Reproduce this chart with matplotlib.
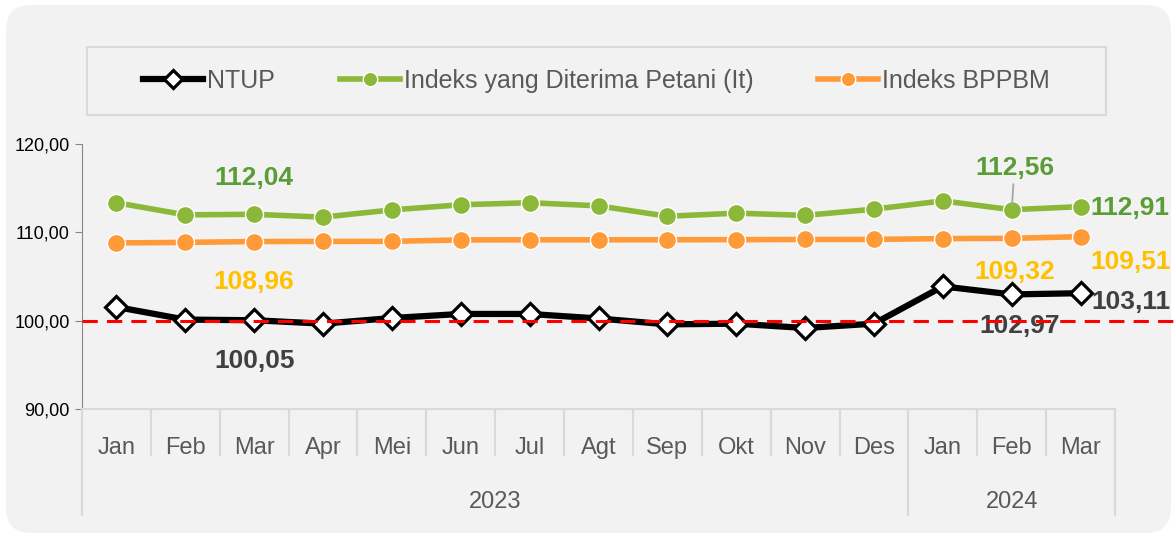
import matplotlib.pyplot as plt
from matplotlib.patches import FancyBboxPatch, Rectangle
from matplotlib.transforms import blended_transform_factory
import numpy as np

plt.rcParams['font.family'] = ['Liberation Sans', 'DejaVu Sans']

# Data
months = ['Jan', 'Feb', 'Mar', 'Apr', 'Mei', 'Jun', 'Jul', 'Agt', 'Sep', 'Okt', 'Nov', 'Des', 'Jan', 'Feb', 'Mar']
years = ['2023', '2024']
year_spans = [(0, 11), (12, 14)]
ntup = [101.55, 100.12, 100.05, 99.66, 100.30, 100.76, 100.76, 100.25, 99.58, 99.66, 99.17, 99.66, 103.88, 102.97, 103.11]
it = [113.35, 111.98, 112.04, 111.72, 112.54, 113.12, 113.35, 113.00, 111.82, 112.17, 111.92, 112.62, 113.56, 112.56, 112.91]
bppbm = [108.80, 108.86, 108.96, 108.97, 108.98, 109.14, 109.15, 109.15, 109.16, 109.17, 109.19, 109.20, 109.29, 109.32, 109.51]
yticks = [90, 100, 110, 120]

GREEN = '#8BB838'
GREEN_TXT = '#5A9C35'
ORANGE = '#FF9A38'
GOLD = '#FFC000'
DARK = '#404040'
GRID = '#D9D9D9'

fig = plt.figure(figsize=(11.74, 5.40), dpi=100)
fig.patch.set_facecolor('white')

# rounded background panel
bg = FancyBboxPatch((0.06, 0.07), 11.65, 5.28, boxstyle='round,pad=0,rounding_size=0.25',
                    transform=fig.dpi_scale_trans, facecolor='#F2F2F2', edgecolor='none', zorder=-2)
fig.patches.append(bg)

# legend box
fig.patches.append(Rectangle((0.87, 4.25), 10.19, 0.68, transform=fig.dpi_scale_trans,
                             facecolor='#F2F2F2', edgecolor=GRID, lw=1.5, zorder=-1))

ax = fig.add_axes([82 / 1174, (540 - 409) / 540, 1033 / 1174, 265 / 540])
ax.set_facecolor('none')
ax.set_zorder(1)
x = np.arange(len(months))

ax.plot(x, bppbm, color=ORANGE, lw=4, marker='o', ms=13, mfc=ORANGE, mec='white', mew=1,
        label='Indeks BPPBM', zorder=3)
ax.plot(x, it, color=GREEN, lw=4, marker='o', ms=13, mfc=GREEN, mec='white', mew=1,
        label='Indeks yang Diterima Petani (It)', zorder=3)
ax.plot(x, ntup, color='black', lw=4.5, marker='D', ms=11, mfc='white', mec='black', mew=2.3,
        label='NTUP', zorder=4)
ax.axhline(100, xmin=0, xmax=(1174 - 82) / 1033, color='#FF0000', lw=2.2, ls=(0, (5, 3)),
           clip_on=False, zorder=5)

ax.set_xlim(-0.5, len(months) - 0.5)
ax.set_ylim(90, 120)
ax.set_yticks(yticks)
ax.set_yticklabels([f'{v:.2f}'.replace('.', ',') for v in yticks], fontsize=13, color='black')
ax.tick_params(axis='y', length=5, color='#868686', pad=4)
for s in ['top', 'right']:
    ax.spines[s].set_visible(False)
ax.spines['left'].set_color('#868686')
ax.spines['bottom'].set_color(GRID)
ax.spines['bottom'].set_linewidth(1.5)

ax.set_xticks(x)
ax.set_xticklabels(months, fontsize=17, color='#595959')
ax.tick_params(axis='x', length=0, pad=20)

# category separators and year labels
tr = blended_transform_factory(ax.transData, ax.transAxes)
for b in np.arange(-0.5, len(months), 1.0):
    outer = b in (-0.5, 11.5, len(months) - 0.5)
    ax.plot([b, b], [0, -0.40 if outer else -0.174], transform=tr, color=GRID, lw=1.5, clip_on=False)
for yr, (a, b) in zip(years, year_spans):
    ax.text((a + b) / 2, -0.35, yr, transform=tr, ha='center', va='center', fontsize=17, color='#595959')

# data labels
lab = dict(fontsize=19, fontweight='bold', textcoords='offset points', va='center')
ax.annotate('112,04', (2, it[2]), xytext=(0, 26), ha='center', color=GREEN_TXT, **lab)
ax.annotate('108,96', (2, bppbm[2]), xytext=(0, -29), ha='center', color=GOLD, **lab)
ax.annotate('100,05', (2, ntup[2]), xytext=(0, -29), ha='center', color=DARK, **lab)
ax.annotate('112,56', (13, it[13]), xytext=(2, 30), ha='center', color=GREEN_TXT,
            arrowprops=dict(arrowstyle='-', color='#A6A6A6', lw=1.3, shrinkA=1, shrinkB=3), **lab)
ax.annotate('109,32', (13, bppbm[13]), xytext=(2, -24), ha='center', color=GOLD, **lab)
ax.annotate('102,97', (13, ntup[13]), xytext=(6, -23), ha='center', color=DARK, **lab)
ax.annotate('112,91', (14, it[14]), xytext=(7, -1), ha='left', color=GREEN_TXT, **lab)
ax.annotate('109,51', (14, bppbm[14]), xytext=(7, -18), ha='left', color=GOLD, **lab)
ax.annotate('103,11', (14, ntup[14]), xytext=(8, -6), ha='left', color=DARK, annotation_clip=False, **lab)

h, l = ax.get_legend_handles_labels()
order = [2, 1, 0]
fig.legend([h[i] for i in order], [l[i] for i in order], loc='center', bbox_to_anchor=(0.508, 0.85),
           ncol=3, frameon=False, fontsize=18, handlelength=2.4, handletextpad=0.15,
           columnspacing=2.6, labelcolor='#595959', markerscale=0.8)

fig.savefig('out.png', dpi=100)
